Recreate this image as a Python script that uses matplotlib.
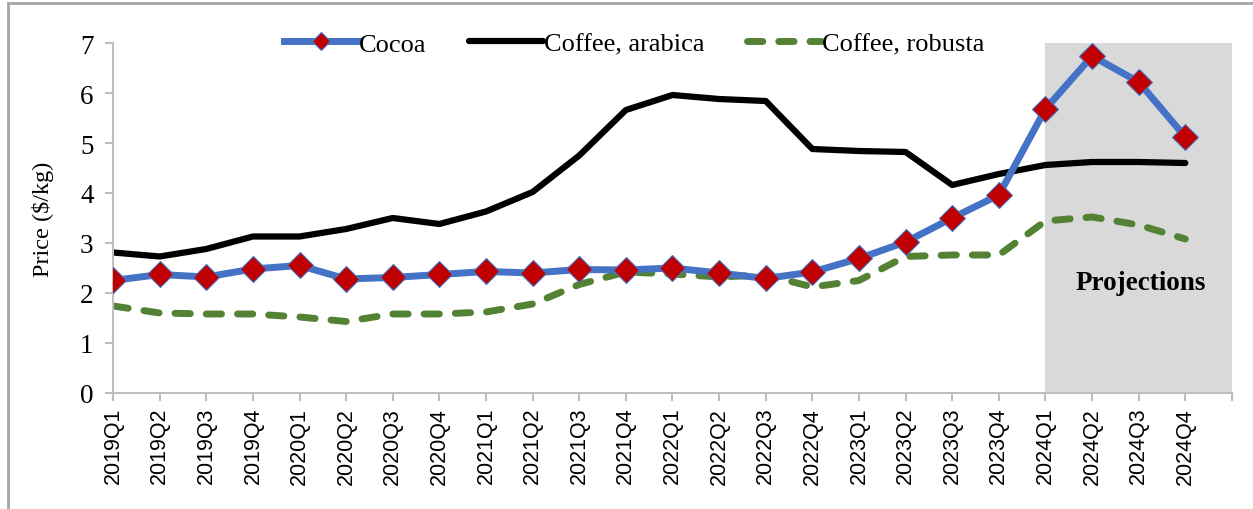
import matplotlib
matplotlib.use("Agg")
from matplotlib import pyplot as plt
from matplotlib.lines import Line2D

quarters = ['2019Q1', '2019Q2', '2019Q3', '2019Q4',
            '2020Q1', '2020Q2', '2020Q3', '2020Q4',
            '2021Q1', '2021Q2', '2021Q3', '2021Q4',
            '2022Q1', '2022Q2', '2022Q3', '2022Q4',
            '2023Q1', '2023Q2', '2023Q3', '2023Q4',
            '2024Q1', '2024Q2', '2024Q3', '2024Q4']

cocoa = [2.25, 2.37, 2.32, 2.48, 2.55, 2.28, 2.31, 2.37,
         2.43, 2.40, 2.47, 2.46, 2.50, 2.40, 2.29, 2.42,
         2.69, 3.02, 3.50, 3.96, 5.68, 6.74, 6.22, 5.12]
arabica = [2.81, 2.73, 2.88, 3.13, 3.13, 3.28, 3.50, 3.38,
           3.63, 4.02, 4.75, 5.66, 5.96, 5.88, 5.84, 4.88,
           4.84, 4.82, 4.16, 4.38, 4.56, 4.62, 4.62, 4.60]
robusta = [1.74, 1.60, 1.58, 1.58, 1.52, 1.43, 1.58, 1.58,
           1.62, 1.78, 2.17, 2.42, 2.38, 2.32, 2.36, 2.12,
           2.25, 2.73, 2.76, 2.76, 3.44, 3.52, 3.36, 3.08]

proj_start = 20  # index of 2024Q1

serif = 'Liberation Serif'
sans = 'Liberation Sans'

fig = plt.figure(figsize=(12.53, 5.10), dpi=100)
ax = fig.add_axes([0.0902, 0.2275, 0.893, 0.6862])

x = list(range(len(quarters)))

# shaded projection period
ax.axvspan(proj_start, len(quarters), ymin=0, ymax=1, color='#D9D9D9', lw=0, zorder=0)
ax.text(22.05, 2.2, 'Projections', fontfamily=serif, fontweight='bold',
        fontsize=19.5, ha='center', va='center')

ax.plot(x, cocoa, color='#4472C4', lw=5, marker='D', markersize=13,
        markerfacecolor='#C00000', markeredgecolor='#4472C4', markeredgewidth=0.8,
        label='Cocoa', zorder=3, solid_joinstyle='round')
ax.plot(x, arabica, color='black', lw=4.5, label='Coffee, arabica', zorder=2,
        solid_joinstyle='round', solid_capstyle='round')
ax.plot(x, robusta, color='#548235', lw=5, linestyle=(0, (2.2, 2.3)),
        dash_capstyle='round', label='Coffee, robusta', zorder=2)

ax.set_xlim(0, len(quarters))
ax.set_ylim(0, 7)
ax.set_xticks(list(range(len(quarters) + 1)))
ax.set_xticklabels(quarters + [''], rotation=90, fontfamily=sans, fontsize=15.5)
ax.set_yticks(range(0, 8))
ax.set_yticklabels([str(v) for v in range(0, 8)], fontfamily=serif, fontsize=19.5)
ax.set_ylabel('Price ($/kg)', fontfamily=serif, fontsize=17.5, labelpad=19)

for s in ['top', 'right']:
    ax.spines[s].set_visible(False)
for s in ['left', 'bottom']:
    ax.spines[s].set_color('#BFBFBF')
    ax.spines[s].set_linewidth(1.5)
ax.tick_params(axis='both', colors='#BFBFBF', labelcolor='black', length=6, width=1.5)
ax.tick_params(axis='y', pad=8)
ax.tick_params(axis='x', pad=4)

leg = ax.legend(loc='center', bbox_to_anchor=(0.506, 0.912), bbox_transform=fig.transFigure,
                ncol=3, frameon=False, handlelength=2.8, handletextpad=0.05,
                columnspacing=1.6, markerscale=0.7, prop={'family': serif, 'size': 19})

# outer frame lines of the original figure box
fig.add_artist(Line2D([8 / 1253, 8 / 1253], [0, 1 - 4 / 510], transform=fig.transFigure,
                      color='#A6A6A6', lw=2))
fig.add_artist(Line2D([8 / 1253, 1], [1 - 4 / 510, 1 - 4 / 510], transform=fig.transFigure,
                      color='#A6A6A6', lw=2))

fig.savefig('out.png', dpi=100)
